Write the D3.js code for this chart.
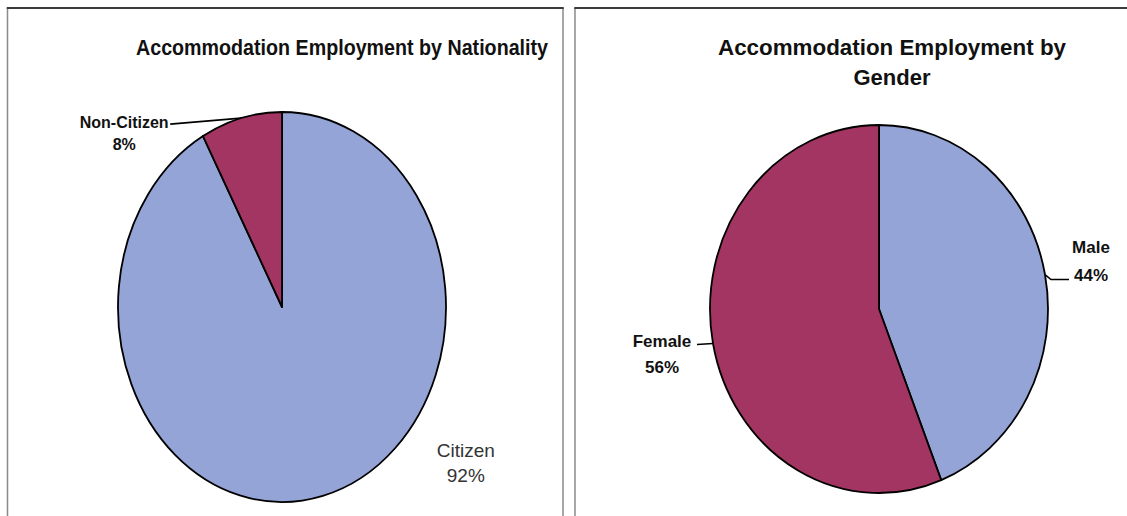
<!DOCTYPE html>
<html>
<head>
<meta charset="utf-8">
<script src="https://cdn.jsdelivr.net/npm/d3@7"></script>
<style>
  body { margin: 0; background: #fff; }
  svg { display: block; }
  .title { font-family: "Liberation Sans Narrow", "Liberation Sans", sans-serif; font-weight: bold; fill: #111; }
  .lbl { font-family: "Liberation Sans Narrow", "Liberation Sans", sans-serif; }
</style>
</head>
<body>
<div id="chart"></div>
<script>
// data
const nationalityLabels = ["Citizen", "Non-Citizen"];
const nationalityValues = [92, 8];
const genderLabels = ["Male", "Female"];
const genderValues = [44, 56];
const sliceColors = ["#95a4d6", "#a23562"];

const W = 1127, H = 516;

const svg = d3.select("#chart").append("svg")
    .attr("width", W)
    .attr("height", H);

// panel frames
function drawPanel(x0, x1) {
    svg.append("line").attr("x1", x0).attr("x2", x0).attr("y1", 8).attr("y2", H)
        .attr("stroke", "#8a8a8a").attr("stroke-width", 1.5);
    if (x1 < W) {
        svg.append("line").attr("x1", x1).attr("x2", x1).attr("y1", 8).attr("y2", H)
            .attr("stroke", "#8a8a8a").attr("stroke-width", 1.5);
    }
    svg.append("line").attr("x1", x0 - 0.75).attr("x2", Math.min(x1 + 0.75, W)).attr("y1", 8).attr("y2", 8)
        .attr("stroke", "#3a3a3a").attr("stroke-width", 2.2);
}
drawPanel(7.5, 563);
drawPanel(575, W + 5);

function drawPie(cfg) {
    const data = cfg.values.map((v, i) => ({ label: cfg.labels[i], value: v, color: sliceColors[i] }));
    const pie = d3.pie().sort(null).value(d => d.value);
    const arcs = pie(data);
    const arc = d3.arc().innerRadius(0).outerRadius(cfg.rx);
    const sy = cfg.ry / cfg.rx;

    const g = svg.append("g")
        .attr("transform", "translate(" + cfg.cx + "," + cfg.cy + ") scale(1," + sy + ")");

    g.selectAll("path")
        .data(arcs)
        .enter().append("path")
        .attr("d", arc)
        .attr("fill", d => d.data.color)
        .attr("stroke", "#000")
        .attr("stroke-width", 1.8)
        .attr("stroke-linejoin", "round")
        .attr("vector-effect", "non-scaling-stroke");

    // label anchors on the pie edge at slice midpoints
    const edge = d3.arc().innerRadius(cfg.rx).outerRadius(cfg.rx);
    arcs.forEach((a, i) => {
        const c = edge.centroid(a);
        const px = cfg.cx + c[0], py = cfg.cy + c[1] * sy;
        const L = cfg.labelPos[i];
        if (L.leader) {
            const pts = [[px, py]].concat(L.leader.map(p => [px + p[0], py + p[1]]));
            svg.append("polyline")
                .attr("points", pts.map(p => p.join(",")).join(" "))
                .attr("fill", "none")
                .attr("stroke", "#000")
                .attr("stroke-width", 1.6);
        }
        const t = svg.append("text")
            .attr("class", "lbl")
            .attr("text-anchor", "middle")
            .attr("font-size", L.size)
            .attr("font-weight", L.bold ? "bold" : "normal")
            .attr("fill", L.bold ? "#111" : "#333");
        t.append("tspan").attr("x", px + L.dx).attr("y", py + L.dy).text(a.data.label);
        t.append("tspan").attr("x", px + L.dx).attr("y", py + L.dy + L.gap).text(a.data.value + "%");
    });
}

drawPie({
    labels: nationalityLabels, values: nationalityValues,
    cx: 282, cy: 307, rx: 164, ry: 195,
    labelPos: [
        { dx: 143, dy: -39, gap: 25, size: 19, bold: false },
        { dx: -117, dy: 10, gap: 22, size: 16, bold: true, leader: [[-71, 6]] }
    ]
});

drawPie({
    labels: genderLabels, values: genderValues,
    cx: 879, cy: 309, rx: 169, ry: 184,
    labelPos: [
        { dx: 46, dy: -22, gap: 28, size: 17, bold: true, leader: [[6, 5], [24, 5]] },
        { dx: -51, dy: 4, gap: 26, size: 17, bold: true, leader: [[-16, 1]] }
    ]
});

// titles
svg.append("text").attr("class", "title")
    .attr("x", 342).attr("y", 55)
    .attr("text-anchor", "middle")
    .attr("font-size", 22)
    .attr("textLength", 412).attr("lengthAdjust", "spacingAndGlyphs")
    .text("Accommodation Employment by Nationality");

svg.append("text").attr("class", "title")
    .attr("x", 892).attr("y", 55)
    .attr("text-anchor", "middle")
    .attr("font-size", 22)
    .attr("textLength", 348).attr("lengthAdjust", "spacingAndGlyphs")
    .text("Accommodation Employment by");

svg.append("text").attr("class", "title")
    .attr("x", 892).attr("y", 85)
    .attr("text-anchor", "middle")
    .attr("font-size", 22)
    .text("Gender");
</script>
</body>
</html>
